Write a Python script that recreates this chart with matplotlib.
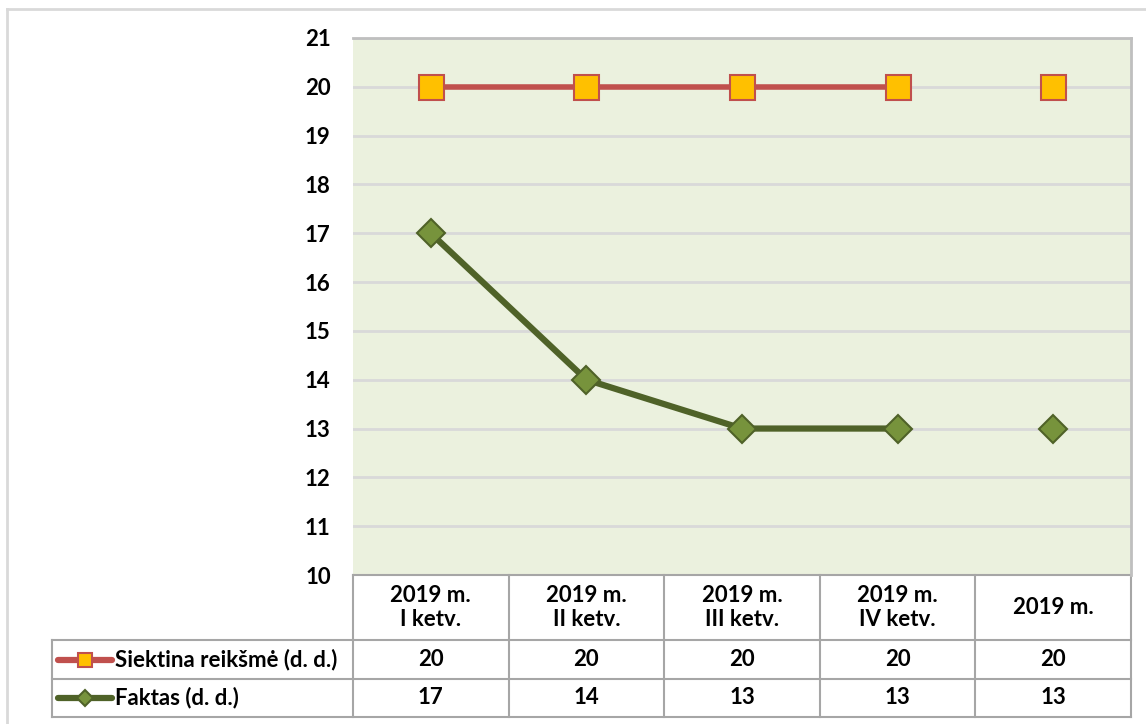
import numpy as np
import matplotlib.pyplot as plt
from matplotlib.lines import Line2D

plt.rcParams['font.family'] = ['Lato', 'DejaVu Sans']

categories = ['2019 m.\nI ketv.', '2019 m.\nII ketv.', '2019 m.\nIII ketv.', '2019 m.\nIV ketv.', '2019 m.']
target = [20, 20, 20, 20, 20]
actual = [17, 14, 13, 13, 13]
series_names = ['Siektina reikšmė (d. d.)', 'Faktas (d. d.)']

red = '#C0504D'
gold = '#FFC000'
green_line = '#4F6228'
green_fill = '#77933C'
grid_col = '#D9D9D9'
border_col = '#A6A6A6'

fig = plt.figure(figsize=(11.46, 7.24), dpi=100)
W, H = 1146, 724
ax = fig.add_axes([353 / W, 1 - 575 / H, (1131 - 353) / W, (575 - 38) / H])
ax.set_facecolor('#EBF1DE')

x = np.arange(len(categories))
# quarterly points are connected, the yearly one stands alone
ax.plot(x[:4], target[:4], color=red, lw=4, zorder=3)
ax.plot(x, target, ls='none', marker='s', ms=18, mfc=gold, mec=red, mew=1.5, zorder=4)
ax.plot(x[:4], actual[:4], color=green_line, lw=4.5, zorder=3)
ax.plot(x, actual, ls='none', marker='D', ms=14, mfc=green_fill, mec=green_line, mew=1.5, zorder=4)

ax.set_xlim(-0.5, len(categories) - 0.5)
ax.set_ylim(10, 21)
ax.set_yticks(range(10, 22))
ax.yaxis.grid(True, color=grid_col, lw=2)
ax.set_axisbelow(True)
ax.set_xticks([])
ax.tick_params(axis='y', length=0, pad=16, labelsize=16)
for lab in ax.get_yticklabels():
    lab.set_fontweight('bold')
for side in ['left', 'bottom']:
    ax.spines[side].set_visible(False)
for side in ['top', 'right']:
    ax.spines[side].set_color('#BFBFBF')
    ax.spines[side].set_linewidth(2)

# data table under the plot
tr = ax.get_xaxis_transform()
axh = 575 - 38
rows_y = [0, -(640 - 575) / axh, -(679 - 575) / axh, -(717 - 575) / axh]
left_x = -0.5 - (353 - 52) / ((1131 - 353) / len(categories))
right_x = len(categories) - 0.5
kw = dict(transform=tr, clip_on=False, color=border_col, lw=1.5)

ax.add_line(Line2D([-0.5, right_x], [rows_y[0], rows_y[0]], **kw))
for ry in rows_y[1:]:
    ax.add_line(Line2D([left_x, right_x], [ry, ry], **kw))
for bx in np.arange(-0.5, len(categories), 1.0):
    ax.add_line(Line2D([bx, bx], [rows_y[0], rows_y[3]], **kw))
ax.add_line(Line2D([left_x, left_x], [rows_y[1], rows_y[3]], **kw))

tkw = dict(transform=tr, ha='center', va='center', fontsize=16, fontweight='bold', clip_on=False)
for i, c in enumerate(categories):
    ax.text(i, (rows_y[0] + rows_y[1]) / 2, c, linespacing=1.15, **tkw)
    ax.text(i, (rows_y[1] + rows_y[2]) / 2, str(target[i]), **tkw)
    ax.text(i, (rows_y[2] + rows_y[3]) / 2, str(actual[i]), **tkw)

# legend keys in the row headers
unit = (1131 - 353) / len(categories)
k0 = left_x + 6 / unit
k1 = left_x + 60 / unit
km = (k0 + k1) / 2
styles = [
    (red, 's', gold, red, 10),
    (green_line, 'D', green_fill, green_line, 8),
]
for r, (name, (lc, mk, mf, me, ms)) in enumerate(zip(series_names, styles)):
    yc = (rows_y[r + 1] + rows_y[r + 2]) / 2
    ax.add_line(Line2D([k0, k1], [yc, yc], transform=tr, clip_on=False, color=lc, lw=4.5,
                       solid_capstyle='round'))
    ax.add_line(Line2D([km], [yc], transform=tr, clip_on=False, marker=mk, ms=ms,
                       mfc=mf, mec=me, mew=1.5, ls='none'))
    ax.text(k1 + 3 / unit, yc, name, transform=tr, ha='left', va='center', fontsize=16,
            fontweight='bold', clip_on=False)

# outer chart frame (top and left edges visible)
fig.add_artist(Line2D([7 / W, 1], [1 - 9 / H, 1 - 9 / H], transform=fig.transFigure, color='#D9D9D9', lw=2))
fig.add_artist(Line2D([7 / W, 7 / W], [0, 1 - 9 / H], transform=fig.transFigure, color='#D9D9D9', lw=2))

fig.savefig('out.png', dpi=100)
